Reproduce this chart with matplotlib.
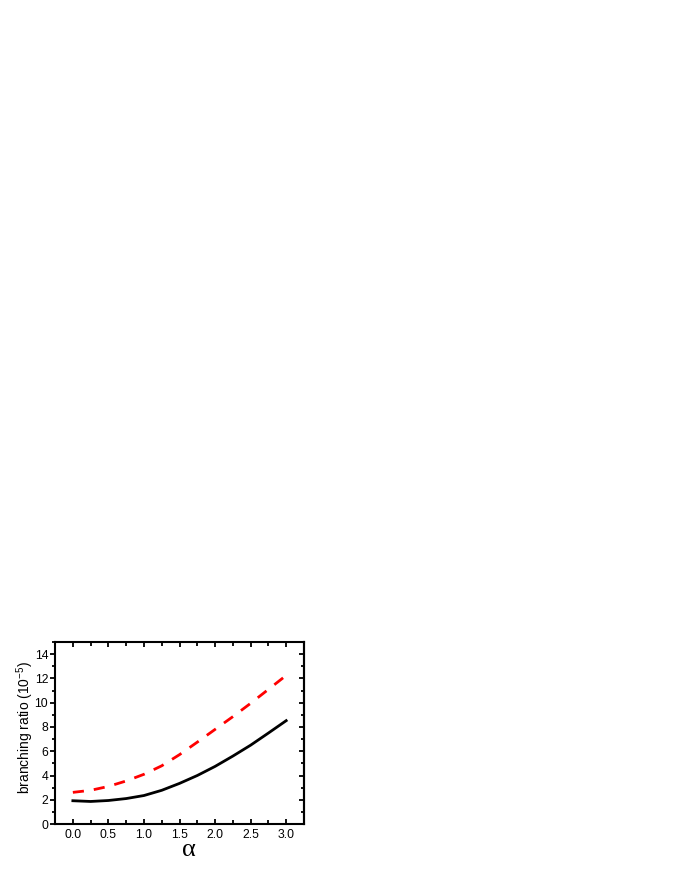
#!/usr/bin/env python3

import matplotlib
matplotlib.use('Agg')
import matplotlib.pyplot as plt
from matplotlib.ticker import MultipleLocator


# Data.
alpha = [0.0, 0.25, 0.5, 0.75, 1.0, 1.25, 1.5, 1.75, 2.0, 2.25, 2.5, 2.75, 3.0]
br_solid = [1.92, 1.86, 1.94, 2.1, 2.35, 2.78, 3.35, 4.0, 4.75, 5.6, 6.5, 7.5, 8.52]
br_dashed = [2.61, 2.78, 3.1, 3.55, 4.1, 4.8, 5.72, 6.75, 7.8, 8.85, 9.95, 11.1, 12.25]

xticks = [0.0, 0.5, 1.0, 1.5, 2.0, 2.5, 3.0]
yticks = [0, 2, 4, 6, 8, 10, 12, 14]

plt.rcParams['font.family'] = ['Liberation Sans', 'DejaVu Sans']
plt.rcParams['mathtext.fontset'] = 'custom'
plt.rcParams['mathtext.rm'] = 'Liberation Sans'
plt.rcParams['mathtext.it'] = 'Liberation Sans:italic'

fig = plt.figure(figsize=(6.8, 8.8), dpi=100)
ax = fig.add_axes((0.081, 0.0636, 0.366, 0.2068))

ax.plot(alpha, br_solid, color='black', lw=2.0, solid_joinstyle='round')
ax.plot(alpha, br_dashed, color='red', lw=2.0, dashes=(4, 3.6))

ax.set_xlim(-0.25, 3.25)
ax.set_ylim(0, 15)
ax.set_xticks(xticks)
ax.set_xticklabels(['%.1f' % v for v in xticks])
ax.set_yticks(yticks)
ax.xaxis.set_minor_locator(MultipleLocator(0.25))
ax.yaxis.set_minor_locator(MultipleLocator(1))

for s in ax.spines.values():
    s.set_linewidth(1.5)

ax.tick_params(axis='x', which='both', direction='in', top=True, bottom=True,
               width=1.3, labelsize=8.8, pad=3.5)
ax.tick_params(axis='x', which='major', length=3.5)
ax.tick_params(axis='x', which='minor', length=3)
ax.tick_params(axis='y', which='both', direction='out', left=True, right=False,
               width=1.3, labelsize=8.8, pad=1.5)
ax.tick_params(axis='y', which='major', length=3.5)
ax.tick_params(axis='y', which='minor', length=2.5)

# Inward ticks on the right side.
ax_r = ax.secondary_yaxis('right')
ax_r.set_yticks(yticks)
ax_r.yaxis.set_minor_locator(MultipleLocator(1))
ax_r.tick_params(axis='y', which='both', direction='in', width=1.3, labelright=False)
ax_r.tick_params(axis='y', which='major', length=3.5)
ax_r.tick_params(axis='y', which='minor', length=2.5)
ax_r.spines['right'].set_linewidth(1.5)

ax.set_ylabel(r'branching ratio (10$^{-5}$)', fontsize=10, va='center')
ax.yaxis.set_label_coords(-0.12, 0.53)
ax.set_xlabel('α', fontsize=19, family=['Liberation Serif', 'DejaVu Serif'],
              va='center')
ax.xaxis.set_label_coords(0.538, -0.14)

fig.savefig('out.png', dpi=100, facecolor='white')
